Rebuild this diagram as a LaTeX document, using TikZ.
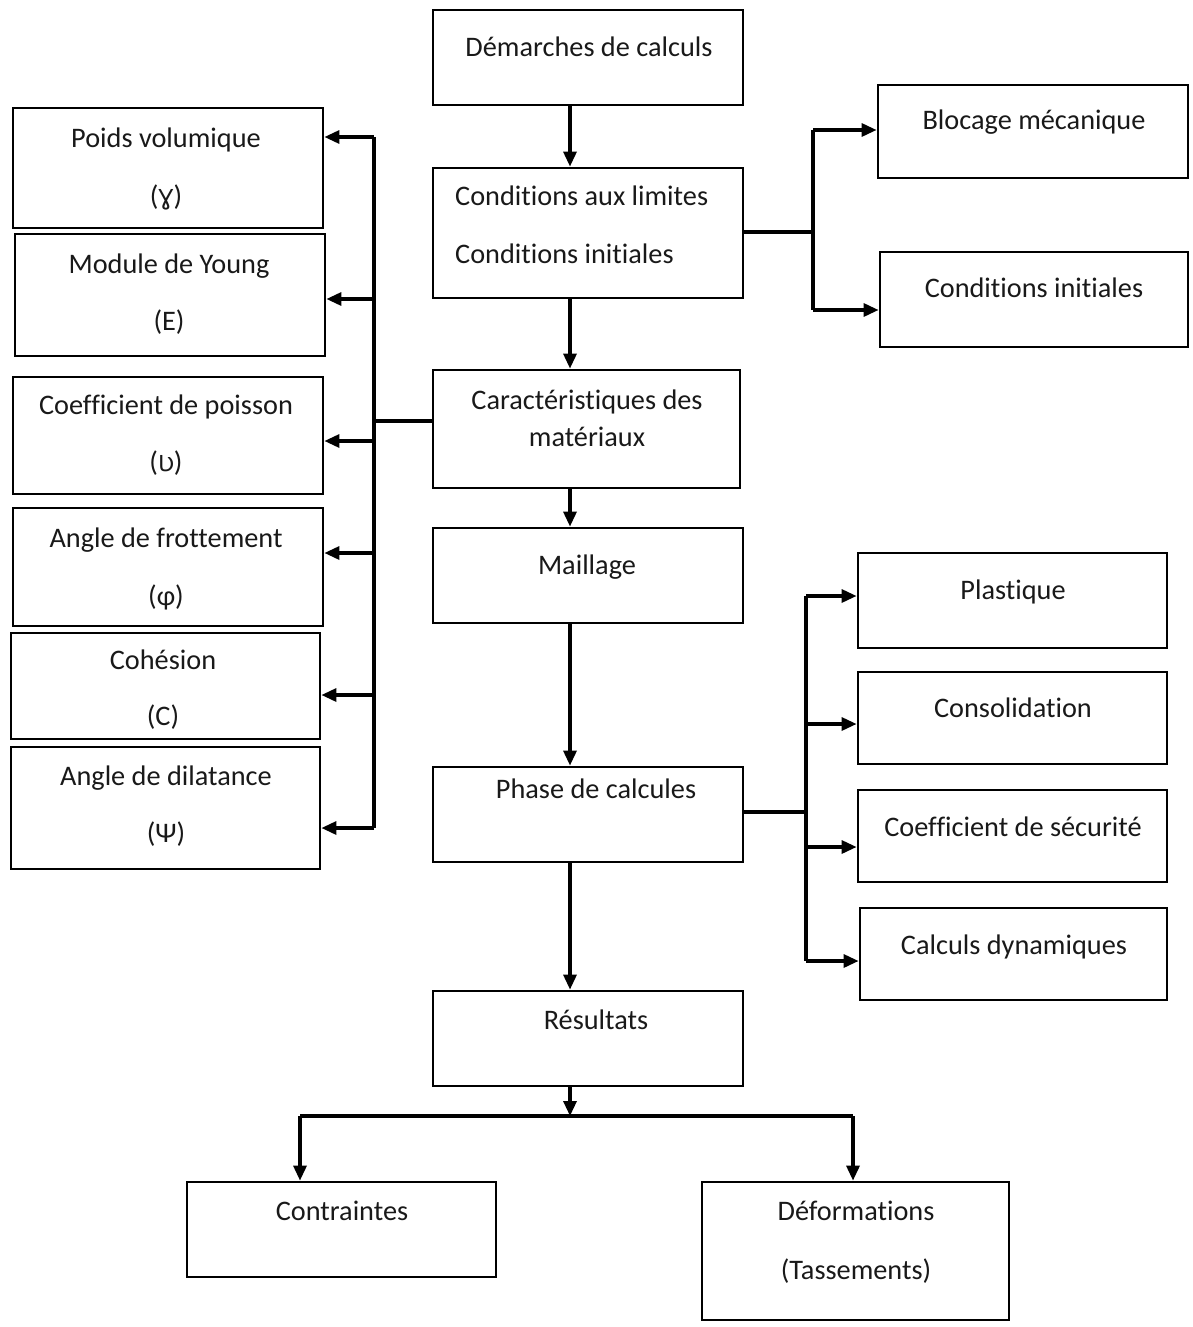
\documentclass[tikz,border=0pt]{standalone}
\usepackage{fontspec}
\setmainfont{Carlito}[Ligatures=NoCommon]
\newfontfamily\symfont{DejaVu Sans}
\usetikzlibrary{arrows.meta}
\tikzset{
  box/.style={draw, line width=2.8pt, inner sep=0pt},
  txt/.style={font=\fontsize{28.3}{33}\selectfont, inner sep=0pt, text height=0.55em, text depth=0.05em, text=black!90},
  conn/.style={line width=3.2pt},
  arr/.style={line width=3.2pt, -{Triangle[length=15pt,width=13pt]}}
}
\newcommand{\bx}[5]{\node[box, minimum width=#4-#2, minimum height=#5-#3] (#1) at ({(#2+#4)/2},{(#3+#5)/2}) {};}
\begin{document}
\begin{tikzpicture}[x=1pt,y=-1pt]
\useasboundingbox (0,0) rectangle (1192,1327);
% central column
\bx{dem}{433}{10}{743}{105}
\bx{cond}{433}{168}{743}{298}
\bx{car}{433}{370}{740}{488}
\bx{mai}{433}{528}{743}{623}
\bx{pha}{433}{767}{743}{862}
\bx{res}{433}{991}{743}{1086}
\bx{con}{187}{1182}{496}{1277}
\bx{def}{702}{1182}{1009}{1320}
% right
\bx{blo}{878}{85}{1188}{178}
\bx{ci}{880}{252}{1188}{347}
\bx{pla}{858}{553}{1167}{648}
\bx{cso}{858}{672}{1167}{764}
\bx{sec}{858}{790}{1167}{882}
\bx{dyn}{860}{908}{1167}{1000}
% left
\bx{poi}{13}{108}{323}{228}
\bx{you}{15}{234}{325}{356}
\bx{nu}{13}{377}{323}{494}
\bx{phi}{13}{508}{323}{626}
\bx{coh}{11}{633}{320}{739}
\bx{psi}{11}{747}{320}{869}
% texts
\begin{scope}[yshift=-6pt]
\node[txt] (t1) at (589,48) {Démarches de calculs};
\node[txt, anchor=west] (t2) at (455,197) {Conditions aux limites};
\node[txt, anchor=west] (t3) at (455,255) {Conditions initiales};
\node[txt] (t4) at (587,401) {Caractéristiques des};
\node[txt] (t5) at (587,438) {matériaux};
\node[txt] (t6) at (587,566) {Maillage};
\node[txt] (t7) at (596,790) {Phase de calcules};
\node[txt] (t8) at (596,1021) {Résultats};
\node[txt] (t9) at (342,1212) {Contraintes};
\node[txt] (t10) at (856,1212) {Déformations};
\node[txt] (t11) at (856,1271) {(Tassements)};
\node[txt] (t12) at (1034,121) {Blocage mécanique};
\node[txt] (t13) at (1034,289) {Conditions initiales};
\node[txt] (t14) at (1013,591) {Plastique};
\node[txt] (t15) at (1013,709) {Consolidation};
\node[txt] (t16) at (1013,828) {Coefficient de sécurité};
\node[txt] (t17) at (1014,946) {Calculs dynamiques};
\node[txt] (t18) at (166,139) {Poids volumique};
\node[txt] (t19) at (166,197) {({\symfont\fontsize{22}{26}\selectfont Ɣ})};
\node[txt] (t20) at (169,265) {Module de Young};
\node[txt] (t21) at (169,322) {(E)};
\node[txt] (t22) at (166,406) {Coefficient de poisson};
\node[txt] (t23) at (166,463) {({\symfont\fontsize{22}{26}\selectfont Ʋ})};
\node[txt] (t24) at (166,539) {Angle de frottement};
\node[txt] (t25) at (166,597) {(φ)};
\node[txt] (t26) at (163,661) {Cohésion};
\node[txt] (t27) at (163,717) {(C)};
\node[txt] (t28) at (166,777) {Angle de dilatance};
\node[txt] (t29) at (166,834) {(Ψ)};
\end{scope}
% central arrows
\draw[arr] (dem.south -| 570,0) -- (cond.north -| 570,0);
\draw[arr] (cond.south -| 570,0) -- (car.north -| 570,0);
\draw[arr] (car.south -| 570,0) -- (mai.north -| 570,0);
\draw[arr] (mai.south -| 570,0) -- (pha.north -| 570,0);
\draw[arr] (pha.south -| 570,0) -- (res.north -| 570,0);
\coordinate (jr) at (570,1116);
\draw[arr] (res.south -| 570,0) -- (jr);
\draw[conn] (300,1116) -- (853,1116);
\draw[arr] (300,1116) -- (con.north -| 300,0);
\draw[arr] (853,1116) -- (def.north -| 853,0);
% right of conditions
\draw[conn] (cond.east |- 0,232) -- (813,232);
\draw[conn] (813,130) -- (813,310);
\draw[arr] (813,130) -- (blo.west |- 0,130);
\draw[arr] (813,310) -- (ci.west |- 0,310);
% left of caracteristiques
\draw[conn] (car.west |- 0,421) -- (374,421);
\draw[conn] (374,137) -- (374,828);
\draw[arr] (374,137) -- (poi.east |- 0,137);
\draw[arr] (374,299) -- (you.east |- 0,299);
\draw[arr] (374,441) -- (nu.east |- 0,441);
\draw[arr] (374,553) -- (phi.east |- 0,553);
\draw[arr] (374,695) -- (coh.east |- 0,695);
\draw[arr] (374,828) -- (psi.east |- 0,828);
% right of phase
\draw[conn] (pha.east |- 0,812) -- (806,812);
\draw[conn] (806,596) -- (806,961);
\draw[arr] (806,596) -- (pla.west |- 0,596);
\draw[arr] (806,724) -- (cso.west |- 0,724);
\draw[arr] (806,847) -- (sec.west |- 0,847);
\draw[arr] (806,961) -- (dyn.west |- 0,961);
\end{tikzpicture}
\end{document}
